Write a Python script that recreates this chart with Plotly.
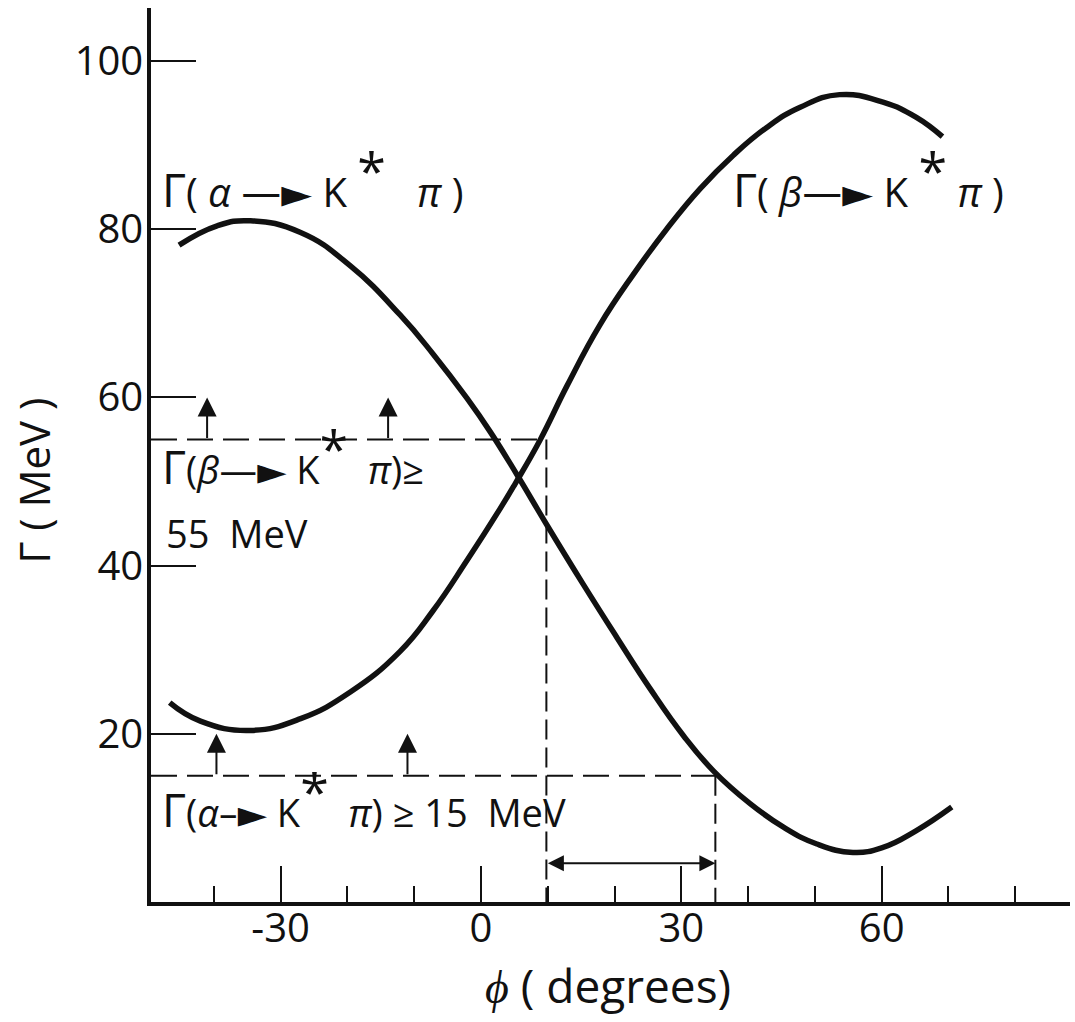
import plotly.graph_objects as go

# Partial widths Γ (MeV) of the two states as functions of the mixing angle φ (degrees)
phi_alpha = [-45.2, -39.5, -34.5, -27.0, -19.5, -12.1, -7.2, -2.1, 1.4, 5.4, 9.9,
             15.3, 20.4, 25.3, 30.3, 34.8, 40.3, 45.3, 50.3, 55.7, 60.2, 65.2, 70.5]
gamma_alpha = [78.1, 80.4, 81.0, 79.6, 75.6, 69.8, 65.2, 59.9, 55.9, 50.8, 44.8,
               37.8, 31.4, 25.4, 19.8, 15.6, 11.7, 8.9, 6.9, 5.9, 6.5, 8.5, 11.3]

phi_beta = [-46.6, -42.0, -34.5, -27.0, -19.5, -12.1, -7.2, -2.1, 2.9, 5.1, 8.9,
            12.9, 17.8, 22.8, 27.8, 32.8, 37.8, 42.8, 47.8, 53.7, 60.2, 65.2, 69.1]
gamma_beta = [23.7, 21.5, 20.4, 21.8, 25.0, 29.8, 34.6, 40.6, 46.8, 49.7, 55.0,
              61.4, 68.6, 74.6, 80.0, 84.8, 88.8, 92.1, 94.5, 96.0, 95.1, 93.3, 91.0]

# Experimental lower bounds and the allowed window of φ
beta_bound = 55
alpha_bound = 15
phi_window = [9.8, 35.1]
beta_arrow_phi = [-41.0, -13.9]
alpha_arrow_phi = [-39.6, -11.0]
arrow_len = 5
window_arrow_y = 4.6

x_tick_vals = [-30, 0, 30, 60]
x_tick_text = ["-30", "0", "30", "60"]
y_tick_vals = [20, 40, 60, 80, 100]
y_tick_text = ["20", "40", "60", "80", "100"]

x_range = [-49.4, 88.2]
y_range = [0, 106.3]

FONT = "Open Sans"
INK = "#111111"

fig = go.Figure()

for xs, ys in ((phi_alpha, gamma_alpha), (phi_beta, gamma_beta)):
    fig.add_trace(go.Scatter(
        x=xs, y=ys, mode="lines",
        line=dict(color=INK, width=5.5, shape="spline", smoothing=1.3),
        hoverinfo="skip", showlegend=False,
    ))

# Bound lines: horizontal from the Γ axis, vertical down to the φ axis
h_dash = "26px,10px"
v_dash = "20px,8px"
fig.add_shape(type="line", x0=x_range[0], x1=phi_window[0], y0=beta_bound, y1=beta_bound,
              line=dict(color=INK, width=2, dash=h_dash))
fig.add_shape(type="line", x0=phi_window[0], x1=phi_window[0], y0=beta_bound, y1=0,
              line=dict(color=INK, width=2, dash=v_dash))
fig.add_shape(type="line", x0=x_range[0], x1=phi_window[1], y0=alpha_bound, y1=alpha_bound,
              line=dict(color=INK, width=2, dash=h_dash))
fig.add_shape(type="line", x0=phi_window[1], x1=phi_window[1], y0=alpha_bound, y1=0,
              line=dict(color=INK, width=2, dash=v_dash))

annotations = []

# Upward arrows marking the allowed side of each bound
for xs, base in ((beta_arrow_phi, beta_bound), (alpha_arrow_phi, alpha_bound)):
    for xv in xs:
        annotations.append(dict(
            x=xv, y=base + arrow_len, ax=xv, ay=base, xref="x", yref="y",
            axref="x", ayref="y", text="", showarrow=True,
            arrowhead=2, arrowsize=1.9, arrowwidth=2, arrowcolor=INK,
        ))

# Double-headed arrow spanning the allowed φ window
annotations.append(dict(
    x=phi_window[1], y=window_arrow_y, ax=phi_window[0], ay=window_arrow_y,
    xref="x", yref="y", axref="x", ayref="y", text="", showarrow=True,
    arrowhead=2, startarrowhead=2, arrowside="end+start", arrowsize=1.6,
    startarrowsize=1.6, arrowwidth=2, arrowcolor=INK,
))

NB = "\u00a0"
G = '<span style="font-size:46px">Γ</span>'
STAR = '<sup><span style="font-size:52px">*</span></sup>'
ARROW = '<span style="font-family:DejaVu Sans">—►</span>'
SHORT_ARROW = '<span style="font-family:DejaVu Sans">–►</span>'


def label(text, x, y, size=38):
    annotations.append(dict(
        x=x, y=y, xref="x", yref="y", text=text, showarrow=False,
        xanchor="left", yanchor="middle", font=dict(family=FONT, size=size, color=INK),
    ))


label(f"{G}({NB}<i>α</i>{NB}{ARROW}{NB}K{NB}{STAR}{NB}{NB}{NB}<i>π</i>{NB})", -48.0, 86.2, size=40)
label(f"{G}({NB}<i>β</i>{ARROW}{NB}K{NB}{STAR}{NB}<i>π</i>{NB})", 37.5, 86.2, size=40)
label(f"{G}(<i>β</i>{ARROW}{NB}K{STAR}{NB}{NB}<i>π</i>)≥", -48.0, 53.2)
label(f"55{NB}{NB}MeV", -47.4, 43.9)
label(f"{G}(<i>α</i>{SHORT_ARROW}{NB}K{STAR}{NB}{NB}<i>π</i>){NB}≥{NB}15{NB}{NB}MeV", -48.0, 12.4)

# Axis titles, placed in paper coordinates outside the plotting area
annotations.append(dict(
    x=0.497, y=-0.093, xref="paper", yref="paper", text=f"<i>ϕ</i>{NB}({NB}degrees)",
    showarrow=False, xanchor="center", yanchor="middle",
    font=dict(family=FONT, size=46, color=INK),
))
annotations.append(dict(
    x=-0.128, y=0.472, xref="paper", yref="paper", text=f"Γ{NB}({NB}MeV{NB})",
    showarrow=False, textangle=-90, xanchor="center", yanchor="middle",
    font=dict(family=FONT, size=42, color=INK),
))

fig.update_layout(
    width=1075, height=1022,
    margin=dict(l=151, r=5, t=8, b=120),
    paper_bgcolor="white", plot_bgcolor="white",
    annotations=annotations,
    showlegend=False,
    xaxis=dict(
        range=x_range, showgrid=False, zeroline=False,
        showline=True, linecolor=INK, linewidth=3.5,
        tickmode="array", tickvals=x_tick_vals, ticktext=x_tick_text,
        ticks="inside", ticklen=36, tickwidth=2, tickcolor=INK,
        minor=dict(tickmode="linear", tick0=0, dtick=10, ticks="inside",
                   ticklen=16, tickwidth=2, tickcolor=INK, showgrid=False),
        tickfont=dict(family=FONT, size=40, color=INK),
        ticklabelstandoff=-12,
    ),
    yaxis=dict(
        range=y_range, showgrid=False, zeroline=False,
        showline=True, linecolor=INK, linewidth=3.5,
        tickmode="array", tickvals=y_tick_vals, ticktext=y_tick_text,
        ticks="inside", ticklen=45, tickwidth=2, tickcolor=INK,
        tickfont=dict(family=FONT, size=40, color=INK),
        ticklabelstandoff=-4,
    ),
)

fig.write_html("out.html")
